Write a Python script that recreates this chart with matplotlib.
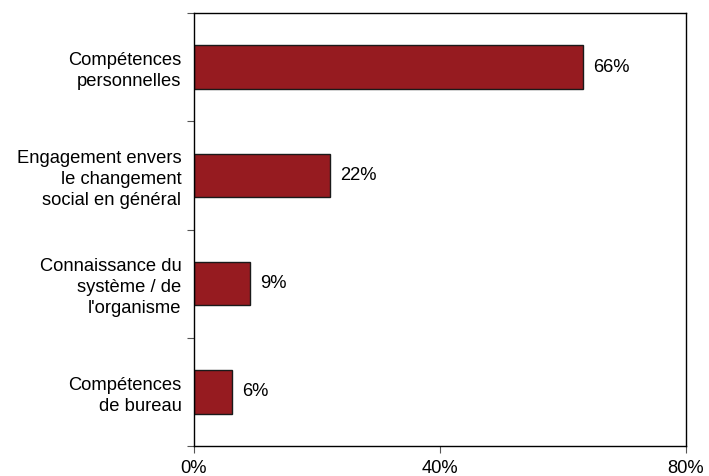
import matplotlib.pyplot as plt
from matplotlib.ticker import FixedLocator, NullFormatter

plt.rcParams['font.family'] = ['Liberation Sans', 'DejaVu Sans']

categories = ["Compétences\npersonnelles",
              "Engagement envers\nle changement\nsocial en général",
              "Connaissance du\nsystème / de\nl'organisme",
              "Compétences\nde bureau"]
values = [63.3, 22.1, 9.1, 6.2]
value_labels = ["66%", "22%", "9%", "6%"]
x_ticks = [0, 40, 80]

fig = plt.figure(figsize=(7.09, 4.76), dpi=100)
ax = fig.add_axes([0.2736, 0.063, 0.694, 0.9097])

pos = [3.5, 2.5, 1.5, 0.5]
ax.barh(pos, values, height=0.4, color='#961b20', edgecolor='#1a1a1a', linewidth=1)
for p, v, lab in zip(pos, values, value_labels):
    ax.annotate(lab, (v, p), xytext=(7, 0), textcoords='offset points',
                va='center', ha='left', fontsize=13.2)

ax.set_xlim(0, 80)
ax.set_ylim(0, 4)
ax.set_xticks(x_ticks)
ax.set_xticklabels([f"{t}%" for t in x_ticks], fontsize=13.2)
ax.yaxis.set_major_locator(FixedLocator([0, 1, 2, 3, 4]))
ax.yaxis.set_major_formatter(NullFormatter())
ax.yaxis.set_minor_locator(FixedLocator(pos))
ax.set_yticklabels(categories, minor=True, fontsize=13.2, ha='right', linespacing=1.32)
ax.tick_params(axis='y', which='minor', length=0, pad=9)
ax.tick_params(axis='y', which='major', length=5, color='#555555')
ax.tick_params(axis='x', length=5, color='#555555', pad=5)
for s in ax.spines.values():
    s.set_linewidth(1)
    s.set_color('black')

fig.savefig('out.png', dpi=100)
